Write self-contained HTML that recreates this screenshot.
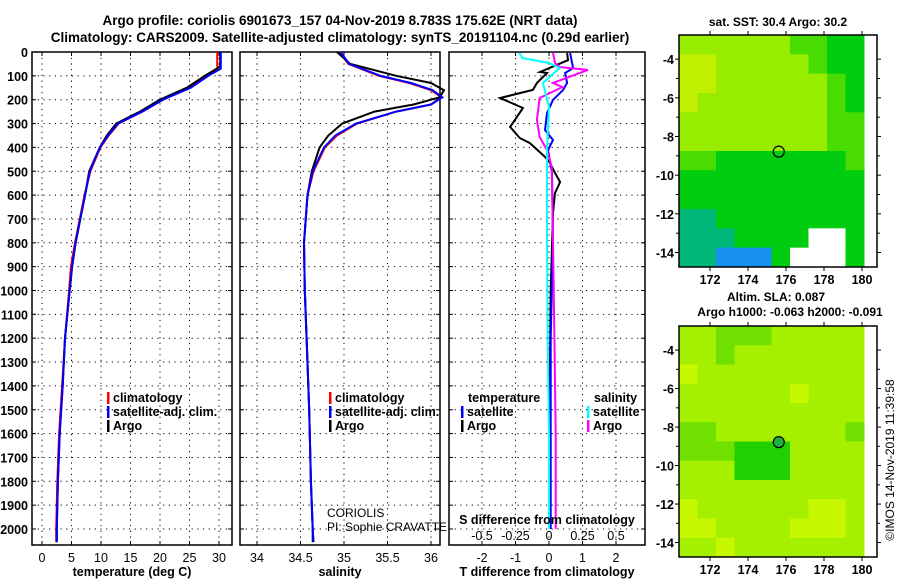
<!DOCTYPE html>
<html><head><meta charset="utf-8">
<style>
body{margin:0;background:#fff;}
svg{display:block;font-family:"Liberation Sans",Arial,sans-serif;font-weight:bold;}
</style></head>
<body>
<svg id="c" width="900" height="580" viewBox="0 0 900 580" xmlns="http://www.w3.org/2000/svg">
<text x="340" y="25" font-size="13.5" text-anchor="middle">Argo profile: coriolis 6901673_157 04-Nov-2019 8.783S 175.62E (NRT data)</text>
<text x="340" y="42" font-size="13.5" text-anchor="middle">Climatology: CARS2009. Satellite-adjusted climatology: synTS_20191104.nc (0.29d earlier)</text>
<g id="g"></g>
<text x="778" y="26" font-size="12" text-anchor="middle">sat. SST: 30.4 Argo: 30.2</text>
<text x="776" y="301" font-size="12" text-anchor="middle">Altim. SLA: 0.087</text>
<text x="790" y="316" font-size="12" text-anchor="middle">Argo h1000: -0.063 h2000: -0.091</text>
<text x="0" y="0" font-size="12" font-weight="normal" text-anchor="middle" transform="translate(894,460) rotate(-90)">©IMOS 14-Nov-2019 11:39:58</text>
</svg>
<script>
// ---- data ----
const depthTicks=[0,100,200,300,400,500,600,700,800,900,1000,1100,1200,1300,1400,1500,1600,1700,1800,1900,2000];
const tempTicks=[0,5,10,15,20,25,30];
const salTicks=[34,34.5,35,35.5,36];
const salTickLabels=["34","34.5","35","35.5","36"];
const tdTicks=[-2,-1,0,1,2];
const sdTicks=[-0.5,-0.25,0,0.25,0.5];
const sdTickLabels=["-0.5","-0.25","0","0.25","0.5"];
const tDepth=[0,60,70,100,150,200,250,300,350,400,500,600,700,800,900,1000,1200,1400,1600,1800,2000,2055];
const tArgo=[30.2,30.2,29.6,27.6,24.5,20.0,16.6,12.6,11.0,9.8,8.0,7.3,6.5,5.7,5.1,4.7,3.9,3.5,3.0,2.7,2.5,2.5];
const tClim=[29.7,29.7,29.8,28.0,25.0,20.5,17.0,13.0,11.3,9.9,8.2,7.2,6.4,5.6,4.9,4.6,3.9,3.4,2.9,2.6,2.4,2.4];
const tSat=[30.3,30.3,30.3,28.2,25.2,20.5,17.0,12.9,11.2,9.8,8.1,7.3,6.5,5.7,5.1,4.7,3.9,3.5,3.0,2.7,2.5,2.5];
const sDepth=[0,50,100,130,160,190,220,250,300,350,400,500,600,800,1000,1200,1500,1800,2000,2055];
const sArgo=[34.92,35.07,35.6,36.0,36.15,36.1,35.8,35.35,34.98,34.82,34.72,34.63,34.58,34.54,34.55,34.57,34.6,34.62,34.64,34.64];
const sClim=[34.95,35.05,35.4,35.75,36.0,36.12,36.0,35.6,35.15,34.92,34.78,34.65,34.58,34.54,34.55,34.57,34.6,34.62,34.64,34.65];
const sSat=[34.96,35.06,35.42,35.77,36.02,36.13,36.0,35.6,35.14,34.9,34.77,34.64,34.58,34.54,34.55,34.57,34.6,34.62,34.64,34.65];
const dtArgoDepth=[4,34,84,88,130,159,193,235,314,361,382,440,465,507,545,591,675,1000,1500,2000];
const dtArgo=[0.54,0.57,-0.27,-0.06,-0.36,-0.48,-1.46,-0.78,-1.16,-0.87,-0.57,-0.12,0.03,0.18,0.33,0.18,0.12,0.05,0.02,0.0];
const dtSatDepth=[4,67,88,130,159,201,256,327,369,411,507,788,1200,1600,2000];
const dtSat=[0.63,0.72,0.48,0.54,0.42,0.12,-0.06,-0.12,0.12,-0.03,0.09,0.12,0.05,0.05,0.05];
const dsArgoDepth=[4,46,63,75,130,147,193,285,356,411,482,788,1200,1600,2000];
const dsArgo=[0.03,0.045,0.08,0.29,0.03,0.1,-0.07,-0.09,-0.07,-0.015,0.02,0.03,0.04,0.05,0.05];
const dsSatDepth=[4,25,46,67,130,231,398,788,1200,1600,2000];
const dsSat=[-0.22,-0.2,0.0,0.08,-0.045,0.0,-0.015,-0.015,-0.01,0.0,0.0];
const mapLon=[172,174,176,178,180];
const mapLat=[-4,-6,-8,-10,-12,-14];
const sstRows=["LLLLLLGGDD","YYLLLLLGDD","YYLLLLLLGD","YLLLLLLLGD","LLLLLLLLGG","LLLLLLLLGG","GGDDDDDDDG","DDDDDDDDDD","DDDDDDDDDD","TTDDDDDDDD","TTTDDDDWWD","TTBBBDWWWD"];
const slaRows=["LLGGGLLLLL","LLGLLLLLLL","YLLLLLLLLL","LLLLLLYLLL","LLLLLLLLLL","GGLLLLLLLG","GGGDDDLLLL","LLLDDDLLLL","LLLLLLLLLL","YLLLLLLYYL","YYLLLLYYYL","LLYLLLLLLL"];
const argoLon=175.62, argoLat=-8.783;

// ---- drawing ----
const NS="http://www.w3.org/2000/svg";
const G=document.getElementById('g');
function el(t,a,p){const e=document.createElementNS(NS,t);for(const k in a)e.setAttribute(k,a[k]);(p||G).appendChild(e);return e;}
const Y0=52,YB=545;
const yD=d=>Y0+d*0.2385;
const panels=[
 {l:32,r:232,x:v=>42+v*5.9,ticks:tempTicks,labs:tempTicks.map(String),title:"temperature (deg C)",name:"temperature-panel"},
 {l:240,r:440,x:v=>257+(v-34)*87,ticks:salTicks,labs:salTickLabels,title:"salinity",name:"salinity-panel"},
 {l:449,r:645,x:v=>549+v*33.5,ticks:tdTicks,labs:tdTicks.map(String),title:"T difference from climatology",name:"difference-panel"}];
panels.forEach((p,pi)=>{
  const g=el('g',{});
  
  
  depthTicks.forEach(d=>{
    const y=yD(d);
    el('line',{x1:p.l,x2:p.r,y1:y,y2:y,stroke:'#000','stroke-dasharray':'1.2,4.5'},g);
    el('line',{x1:p.l,x2:p.l+4,y1:y,y2:y,stroke:'#000'},g);
    el('line',{x1:p.r,x2:p.r-4,y1:y,y2:y,stroke:'#000'},g);
    if(pi===0){const t=el('text',{x:28,y:y+5,'font-size':12.5,'text-anchor':'end'},g);t.textContent=d;}
  });
  p.ticks.forEach((v,i)=>{
    const x=p.x(v);
    el('line',{x1:x,x2:x,y1:Y0,y2:YB,stroke:'#000','stroke-dasharray':'1.2,4.5'},g);
    el('line',{x1:x,x2:x,y1:YB,y2:YB-4,stroke:'#000'},g);
    el('line',{x1:x,x2:x,y1:Y0,y2:Y0+4,stroke:'#000'},g);
    const t=el('text',{x:x,y:562,'font-size':12.5,'text-anchor':'middle','font-weight':'normal'},g);t.textContent=p.labs[i];
  });
  el('rect',{x:p.l,y:Y0,width:p.r-p.l,height:YB-Y0,fill:'none',stroke:'#000','stroke-width':1.5},g);
  const t=el('text',{x:(p.l+p.r)/2,y:576,'font-size':12.5,'text-anchor':'middle'},g);t.textContent=p.title;
});
function line(dep,val,fx,col,name,w){
  const pts=dep.map((d,i)=>fx(val[i]).toFixed(1)+','+yD(d).toFixed(1)).join(' ');
  const e=el('polyline',{points:pts,fill:'none',stroke:col,'stroke-width':w||2});
  
  
}
const P=panels;
line(tDepth,tClim,P[0].x,'#f00','temp-climatology-line');
line(tDepth,tArgo,P[0].x,'#000','temp-argo-line');
line(tDepth,tSat,P[0].x,'#00f','temp-satellite-line');
line(sDepth,sClim,P[1].x,'#f00','sal-climatology-line');
line(sDepth,sArgo,P[1].x,'#000','sal-argo-line');
line(sDepth,sSat,P[1].x,'#00f','sal-satellite-line');
const sx=v=>549+v*134;
line(dtArgoDepth,dtArgo,P[2].x,'#000','tdiff-argo-line');
line(dtSatDepth,dtSat,P[2].x,'#00f','tdiff-satellite-line');
line(dsArgoDepth,dsArgo,sx,'#f0f','sdiff-argo-line');
line(dsSatDepth,dsSat,sx,'#0ff','sdiff-satellite-line');
// S diff secondary axis labels
sdTicks.forEach((v,i)=>{const t=el('text',{x:sx(v),y:540,'font-size':12.5,'text-anchor':'middle','font-weight':'normal'});t.textContent=sdTickLabels[i];});
{const t=el('text',{x:547,y:524,'font-size':12.5,'text-anchor':'middle'});t.textContent='S difference from climatology';
}
// legends
function leg(x,y,col,txt,name){
  el('rect',{x:x,y:y-10,width:2.5,height:12,fill:col});
  const t=el('text',{x:x+6,y:y,'font-size':12.5});t.textContent=txt;
  
}
leg(107,402,'#f00','climatology','legend-t-climatology');
leg(107,416,'#00f','satellite-adj. clim.','legend-t-satellite');
leg(107,430,'#000','Argo','legend-t-argo');
leg(329,402,'#f00','climatology','legend-s-climatology');
leg(329,416,'#00f','satellite-adj. clim.','legend-s-satellite');
leg(329,430,'#000','Argo','legend-s-argo');
{const t=el('text',{x:468,y:402,'font-size':12.5});t.textContent='temperature';}
{const t=el('text',{x:594,y:402,'font-size':12.5});t.textContent='salinity';}
leg(461,416,'#00f','satellite','legend-tdiff-satellite');
leg(461,430,'#000','Argo','legend-tdiff-argo');
leg(587,416,'#0ff','satellite','legend-sdiff-satellite');
leg(587,430,'#f0f','Argo','legend-sdiff-argo');
{const t=el('text',{x:327,y:517,'font-size':12,'font-weight':'normal'});t.textContent='CORIOLIS';}
{const t=el('text',{x:327,y:531,'font-size':12,'font-weight':'normal'});t.textContent='PI: Sophie CRAVATTE';}
// maps
const sstCol={Y:'#c0f000',L:'#98ec00',G:'#48dc00',D:'#00cc10',T:'#00b878',B:'#1890f0',W:'#ffffff'};
const slaCol={Y:'#c8f800',L:'#a4f000',G:'#70e000',D:'#20d000'};
function map(top,bot,rows,cols,name,filled){
  const L=679,R=877,DR=864;
  const lx=v=>710+(v-172)*19;
  const latTop=-2.75,latBot=-14.75;
  const ly=v=>top+(v-latTop)/(latBot-latTop)*(bot-top);
  const g=el('g',{});
  
  
  const nr=rows.length,nc=rows[0].length,cw=(DR-L)/nc,ch=(bot-top)/nr;
  rows.forEach((r,i)=>{for(let j=0;j<nc;j++)el('rect',{x:L+j*cw,y:top+i*ch,width:cw+0.5,height:ch+0.5,fill:cols[r[j]]},g);});
  el('rect',{x:L,y:top,width:R-L,height:bot-top,fill:'none',stroke:'#000','stroke-width':1.5},g);
  mapLon.forEach(v=>{const x=lx(v);el('line',{x1:x,x2:x,y1:bot,y2:bot+4,stroke:'#000'},g);el('line',{x1:x,x2:x,y1:top,y2:top-4,stroke:'#000'},g);
    const t=el('text',{x:x,y:bot+17,'font-size':12.5,'text-anchor':'middle'},g);t.textContent=v;});
  mapLat.forEach(v=>{const y=ly(v);el('line',{x1:L,x2:L-4,y1:y,y2:y,stroke:'#000'},g);el('line',{x1:R,x2:R+4,y1:y,y2:y,stroke:'#000'},g);
    const t=el('text',{x:L-5,y:y+5,'font-size':12.5,'text-anchor':'end'},g);t.textContent=v;});
  [-5,-7,-9,-11,-13].forEach(v=>{const y=ly(v);el('line',{x1:L,x2:L-3,y1:y,y2:y,stroke:'#000'},g);el('line',{x1:R,x2:R+3,y1:y,y2:y,stroke:'#000'},g);});
  const c=el('circle',{cx:lx(argoLon),cy:ly(argoLat),r:5.5,fill:filled?'#20b040':'none',stroke:'#000','stroke-width':1.2},g);
  
  
}
map(35,267,sstRows,sstCol,'sst-map',false);
map(326,557,slaRows,slaCol,'sla-map',true);
</script>
</body></html>
